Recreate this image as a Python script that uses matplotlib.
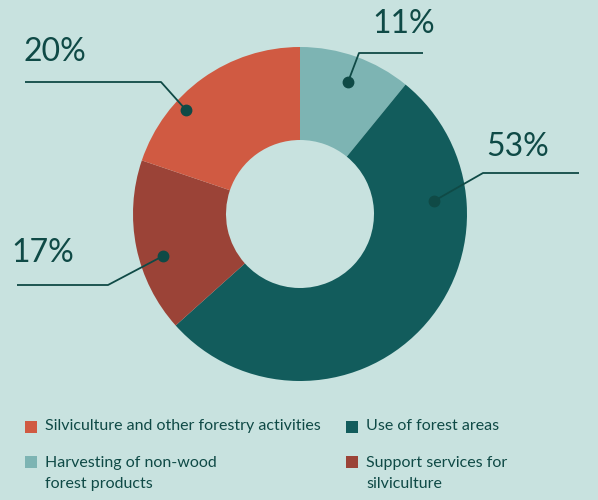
import matplotlib.pyplot as plt

# Share of activities (percent)
categories = ["Harvesting of non-wood\nforest products", "Use of forest areas",
              "Support services for\nsilviculture", "Silviculture and other forestry activities"]
shares = [11, 53, 17, 20]
colors = ["#7db4b3", "#125c5c", "#9b4337", "#d05a42"]

BG = "#c8e2df"
INK = "#0f4a46"

fig = plt.figure(figsize=(5.98, 5.0), dpi=100, facecolor=BG)
ax = fig.add_axes([0, 0, 1, 1])
ax.set_facecolor(BG)

cx, cy, r_out, r_in = 300, 286, 167, 74
ax.pie(shares, colors=colors, startangle=90, counterclock=False,
       center=(cx, cy), radius=r_out, frame=True,
       wedgeprops=dict(width=r_out - r_in, linewidth=0))
ax.set_xlim(0, 598)
ax.set_ylim(0, 500)
ax.set_aspect("equal")
ax.axis("off")

# Leader lines: dot -> elbow -> horizontal end, label above the horizontal
leaders = [
    ((348, 418), (359, 447), (423, 447), (404, 467)),
    ((434, 299), (483, 327), (579, 327), (518, 344)),
    ((163, 244), (108, 215), (17, 215), (43, 238)),
    ((186, 390), (161, 418), (25, 418), (55, 439)),
]
for share, (dot, elbow, end, lab) in zip(shares, leaders):
    ax.plot([dot[0], elbow[0], end[0]], [dot[1], elbow[1], end[1]],
            color=INK, lw=1.3, solid_capstyle="butt", zorder=4)
    ax.plot(*dot, "o", color=INK, ms=7.5, zorder=5)
    ax.text(lab[0], lab[1], f"{share}%", ha="center", va="baseline",
            fontsize=23, color=INK, family="Lato")

# Legend laid out in two columns
legend = [
    (3, 25, 73),
    (1, 346, 73),
    (0, 25, 38),
    (2, 346, 38),
]
for idx, x, y in legend:
    ax.add_patch(plt.Rectangle((x, y - 6), 12, 12, color=colors[idx], lw=0))
    multi = "\n" in categories[idx]
    ax.text(x + 20, y + 6 if multi else y + 1, categories[idx], ha="left",
            va="top" if multi else "center",
            fontsize=11.5, color=INK, family="Lato", linespacing=1.65)

fig.savefig("out.png", dpi=100, facecolor=BG)
